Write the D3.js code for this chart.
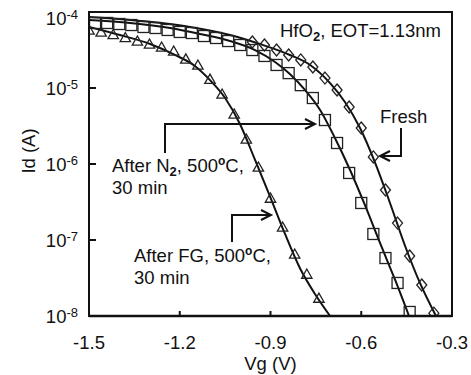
<!DOCTYPE html>
<html>
<head>
<meta charset="utf-8">
<script src="https://cdn.jsdelivr.net/npm/d3@7"></script>
<style>
  body { margin: 0; background: #fff; }
  text { font-family: "Liberation Sans", Arial, sans-serif; fill: #111; }
</style>
</head>
<body>
<svg id="chart" width="471" height="375"></svg>
<script>
// measured points, Vg (V) and Id (A)
var fgVg = [-1.50, -1.46, -1.42, -1.38, -1.34, -1.30, -1.26, -1.22, -1.18, -1.14,
            -1.10, -1.06, -1.02, -0.98, -0.94, -0.90, -0.86, -0.82, -0.78, -0.74];
var fgId = [5.62e-5, 5.29e-5, 4.91e-5, 4.48e-5, 4.03e-5, 3.68e-5, 3.36e-5, 2.98e-5, 2.34e-5, 1.95e-5,
            1.27e-5, 8.09e-6, 4.42e-6, 2.07e-6, 8.86e-7, 3.46e-7, 1.44e-7, 6.35e-8, 3.46e-8, 1.67e-8];

var n2Vg = [-1.48, -1.44, -1.40, -1.36, -1.32, -1.28, -1.24, -1.20, -1.16, -1.12,
            -1.08, -1.04, -1.00, -0.96, -0.92, -0.88, -0.84, -0.80, -0.76, -0.72,
            -0.68, -0.64, -0.60, -0.56, -0.52, -0.48, -0.44];
var n2Id = [7.17e-5, 7.17e-5, 6.95e-5, 6.74e-5, 6.35e-5, 6.16e-5, 5.80e-5, 5.46e-5, 5.29e-5, 4.83e-5,
            4.55e-5, 4.15e-5, 3.68e-5, 3.16e-5, 2.64e-5, 2.01e-5, 1.57e-5, 1.09e-5, 7.38e-6, 3.79e-6,
            1.89e-6, 7.62e-7, 3.07e-7, 1.20e-7, 5.79e-8, 2.72e-8, 1.13e-8];

var freshVg = [-0.96, -0.92, -0.88, -0.84, -0.80, -0.76, -0.72, -0.68, -0.64, -0.60,
               -0.56, -0.52, -0.48, -0.44, -0.40, -0.36];
var freshId = [4.03e-5, 3.68e-5, 3.16e-5, 2.72e-5, 2.34e-5, 1.89e-5, 1.35e-5, 9.42e-6, 5.62e-6, 2.98e-6,
               1.24e-6, 4.55e-7, 1.67e-7, 6.16e-8, 2.56e-8, 1.09e-8];

// fitted curves
var fgFitVg = [-1.500, -1.398, -1.298, -1.216, -1.150, -1.100, -1.050, -1.001, -0.951, -0.902, -0.852, -0.803, -0.753, -0.703];
var fgFitId = [6.35e-5, 4.98e-5, 3.79e-5, 2.72e-5, 1.95e-5, 1.27e-5, 7.38e-6, 3.36e-6, 1.13e-6, 3.79e-7, 1.20e-7, 4.29e-8, 1.95e-8, 1.0e-8];

var n2FitVg = [-1.500, -1.364, -1.232, -1.133, -1.034, -0.951, -0.885, -0.836, -0.786, -0.736, -0.687, -0.637, -0.588, -0.538, -0.488, -0.442];
var n2FitId = [7.85e-5, 7.17e-5, 6.16e-5, 5.14e-5, 4.15e-5, 3.16e-5, 2.20e-5, 1.53e-5, 9.42e-6, 5.14e-6, 2.20e-6, 8.34e-7, 2.89e-7, 9.14e-8, 2.98e-8, 1.0e-8];

var freshFitVg = [-1.500, -1.331, -1.166, -1.034, -0.935, -0.836, -0.769, -0.703, -0.654, -0.604, -0.555, -0.505, -0.455, -0.406, -0.353];
var freshFitId = [8.59e-5, 7.62e-5, 6.35e-5, 4.98e-5, 3.79e-5, 2.72e-5, 2.01e-5, 1.16e-5, 6.55e-6, 2.98e-6, 1.06e-6, 3.07e-7, 8.34e-8, 2.72e-8, 1.0e-8];

var xTicks = [-1.5, -1.2, -0.9, -0.6, -0.3];
var yTicks = [1e-8, 1e-7, 1e-6, 1e-5, 1e-4];
var yTickExp = ["-8", "-7", "-6", "-5", "-4"];

var margin = { top: 12, left: 89, right: 19, bottom: 59 },
    width = 471 - margin.left - margin.right,
    height = 375 - margin.top - margin.bottom;

var fs = 18.5;  // main font size

var svg = d3.select("#chart");

var x = d3.scaleLinear().domain([-1.5, -0.3]).range([margin.left, margin.left + width]);
var y = d3.scaleLog().domain([1e-8, 1e-4]).range([margin.top + height, margin.top]);

svg.append("clipPath").attr("id", "plot")
  .append("rect")
  .attr("x", margin.left).attr("y", margin.top)
  .attr("width", width).attr("height", height);

function zipPts(vs, ids) {
    return vs.map(function(v, i) { return [v, ids[i]]; });
}

var line = d3.line()
    .x(function(d) { return x(d[0]); })
    .y(function(d) { return y(d[1]); })
    .curve(d3.curveMonotoneX);

var g = svg.append("g").attr("clip-path", "url(#plot)");

[[fgFitVg, fgFitId], [n2FitVg, n2FitId], [freshFitVg, freshFitId]].forEach(function(s) {
    g.append("path")
      .attr("d", line(zipPts(s[0], s[1])))
      .attr("fill", "none")
      .attr("stroke", "#111")
      .attr("stroke-width", 2);
});

// markers
var mk = g.append("g").attr("fill", "none").attr("stroke", "#222").attr("stroke-width", 1.3);

mk.selectAll(".sq").data(zipPts(n2Vg, n2Id)).enter().append("rect")
  .attr("x", function(d) { return x(d[0]) - 5.5; })
  .attr("y", function(d) { return y(d[1]) - 5.5; })
  .attr("width", 11).attr("height", 11);

mk.selectAll(".tri").data(zipPts(fgVg, fgId)).enter().append("path")
  .attr("transform", function(d) { return "translate(" + x(d[0]) + "," + y(d[1]) + ")"; })
  .attr("d", "M0,-6L5.2,3.2L-5.2,3.2Z");

mk.selectAll(".dia").data(zipPts(freshVg, freshId)).enter().append("path")
  .attr("transform", function(d) { return "translate(" + x(d[0]) + "," + y(d[1]) + ")"; })
  .attr("d", "M0,-6L5,0L0,6L-5,0Z");

// frame + axes
svg.append("rect")
  .attr("x", margin.left).attr("y", margin.top)
  .attr("width", width).attr("height", height)
  .attr("fill", "none").attr("stroke", "#111").attr("stroke-width", 2);

svg.append("line")
  .attr("x1", margin.left).attr("x2", margin.left + width)
  .attr("y1", margin.top + height).attr("y2", margin.top + height)
  .attr("stroke", "#111").attr("stroke-width", 2.5);

svg.selectAll(".xt").data(xTicks.slice(1, -1)).enter().append("line")
  .attr("x1", function(d) { return x(d); }).attr("x2", function(d) { return x(d); })
  .attr("y1", margin.top + height).attr("y2", margin.top + height - 5)
  .attr("stroke", "#111").attr("stroke-width", 2);

svg.selectAll(".yt").data(yTicks.slice(1, -1)).enter().append("line")
  .attr("x1", margin.left).attr("x2", margin.left + 7)
  .attr("y1", function(d) { return y(d); }).attr("y2", function(d) { return y(d); })
  .attr("stroke", "#111").attr("stroke-width", 2);

svg.selectAll(".xl").data(xTicks).enter().append("text")
  .attr("x", function(d) { return x(d); })
  .attr("y", 349)
  .attr("text-anchor", "middle")
  .attr("font-size", fs)
  .text(function(d) { return d.toFixed(1); });

var yl = svg.selectAll(".yl").data(yTicks).enter().append("text")
  .attr("x", 78)
  .attr("y", function(d) { return Math.max(y(d) + 6.5, 25); })
  .attr("text-anchor", "end")
  .attr("font-size", fs);
yl.append("tspan").text("10");
yl.append("tspan").attr("font-size", 13).attr("dy", -6)
  .text(function(d, i) { return yTickExp[i]; });

// axis titles
svg.append("text")
  .attr("transform", "translate(35,151) rotate(-90)")
  .attr("text-anchor", "middle")
  .attr("font-size", fs)
  .text("Id (A)");

svg.append("text")
  .attr("x", x(-0.9)).attr("y", 370)
  .attr("text-anchor", "middle")
  .attr("font-size", fs)
  .text("Vg (V)");

// annotations
var t1 = svg.append("text").attr("x", 280).attr("y", 37).attr("font-size", fs);
t1.append("tspan").text("HfO");
t1.append("tspan").attr("font-size", 13).attr("font-weight", "bold").attr("dy", 4).text("2");
t1.append("tspan").attr("dy", -4).text(", EOT=1.13nm");

svg.append("text").attr("x", 380).attr("y", 123).attr("font-size", fs).text("Fresh");

function degLabel(tx, ty, pre, sub) {
    var t = svg.append("text").attr("x", tx).attr("y", ty).attr("font-size", fs);
    t.append("tspan").text(pre);
    if (sub) {
        t.append("tspan").attr("font-size", 13).attr("font-weight", "bold").attr("dy", 4).text(sub);
        t.append("tspan").attr("dy", -4).text(", 500");
    } else {
        t.append("tspan").text(", 500");
    }
    t.append("tspan").attr("font-size", 12).attr("font-weight", "bold").attr("dy", -7).text("o");
    t.append("tspan").attr("dy", 7).text("C,");
    svg.append("text").attr("x", tx).attr("y", ty + 22).attr("font-size", fs).text("30 min");
}
degLabel(112, 172, "After N", "2");
degLabel(134, 262, "After FG", null);

var arrows = [
    { path: [[165, 153], [165, 124], [315, 124]], dir: "right" },
    { path: [[232, 242], [232, 215], [271, 215]], dir: "right" },
    { path: [[401, 128], [401, 156], [380, 156]], dir: "left" }
];
arrows.forEach(function(a) {
    svg.append("path")
      .attr("d", d3.line()(a.path))
      .attr("fill", "none").attr("stroke", "#111").attr("stroke-width", 2);
    var tip = a.path[a.path.length - 1], s = a.dir == "right" ? -1 : 1;
    svg.append("path")
      .attr("d", d3.line()([[tip[0] + s * 10, tip[1] - 5], tip, [tip[0] + s * 10, tip[1] + 5]]))
      .attr("fill", "none").attr("stroke", "#111").attr("stroke-width", 2);
});
</script>
</body>
</html>
